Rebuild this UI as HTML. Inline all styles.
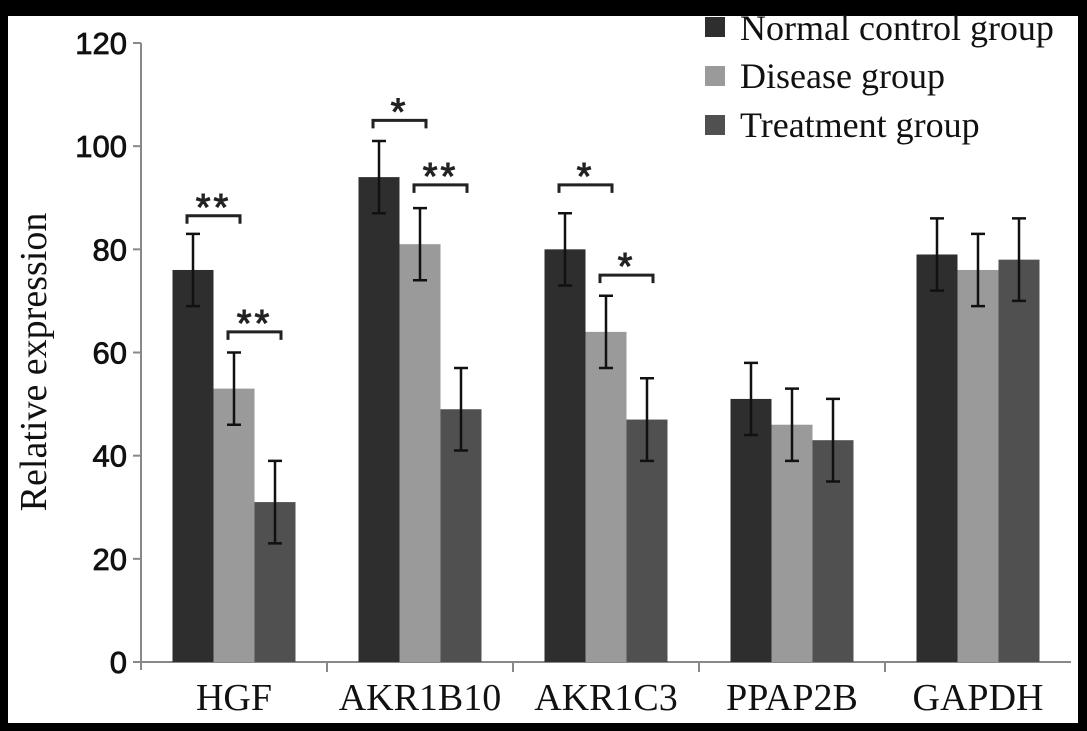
<!DOCTYPE html>
<html><head><meta charset="utf-8"><style>
html,body{margin:0;padding:0;background:#000;}
svg{display:block}
</style></head><body>
<svg width="1087" height="731" xmlns="http://www.w3.org/2000/svg">
<rect x="8" y="16" width="1070" height="707" fill="#fff"/>
<g id="plot"></g>
<text transform="translate(46,362) rotate(-90)" text-anchor="middle" font-family="Liberation Serif, serif" font-size="38" fill="#111">Relative expression</text>
<g font-family="Liberation Serif, serif" font-size="36" fill="#111">
<rect x="705" y="17" width="20" height="20" fill="#2e2e2e"/>
<text x="740" y="40">Normal control group</text>
<rect x="705" y="66" width="20" height="20" fill="#9a9a9a"/>
<text x="740" y="88">Disease group</text>
<rect x="705" y="115" width="20" height="20" fill="#505050"/>
<text x="740" y="137">Treatment group</text>
</g>
<rect x="1078" y="0" width="9" height="731" fill="#000"/>
</svg>
<script>
const categories=["HGF","AKR1B10","AKR1C3","PPAP2B","GAPDH"];
const normalVals=[76,94,80,51,79];
const diseaseVals=[53,81,64,46,76];
const treatVals=[31,49,47,43,78];
const normalErr=[7,7,7,7,7];
const diseaseErr=[7,7,7,7,7];
const treatErr=[8,8,8,8,8];
const yTicks=[0,20,40,60,80,100,120];
// significance: [categoryIndex, seriesA, seriesB, bracketValue, label]
const sigs=[[0,0,1,86.5,"**"],[0,1,2,64,"**"],[1,0,1,105,"*"],[1,1,2,92.5,"**"],[2,0,1,92.5,"*"],[2,1,2,75,"*"]];
const NS="http://www.w3.org/2000/svg";
const g=document.getElementById('plot');
const x0=141,x1=1071,yZero=662,yTop=43;
const y=v=>yZero-(v/120)*(yZero-yTop);
const gw=(x1-x0)/categories.length,bw=41;
const barX=(c,s)=>x0+gw*c+(gw-3*bw)/2+s*bw;
function mk(t,a){const e=document.createElementNS(NS,t);for(const k in a)e.setAttribute(k,a[k]);g.appendChild(e);return e;}
let e=mk('line',{x1:x0,y1:yTop,x2:x0,y2:yZero+8,stroke:'#888','stroke-width':2});


e=mk('line',{x1:x0-8,y1:yZero,x2:x1,y2:yZero,stroke:'#888','stroke-width':2});


yTicks.forEach(t=>{
 let l=mk('line',{x1:x0-8,y1:y(t),x2:x0,y2:y(t),stroke:'#888','stroke-width':2});
 
 
 let tx=mk('text',{x:x0-14,y:y(t)+11,'text-anchor':'end','font-family':'Liberation Sans, sans-serif','font-size':31,fill:'#111',stroke:'#111','stroke-width':0.8});
 tx.textContent=t;
 
 
});
const series=[[normalVals,normalErr,'#2e2e2e','normal'],[diseaseVals,diseaseErr,'#9a9a9a','disease'],[treatVals,treatErr,'#505050','treatment']];
categories.forEach((c,i)=>{
 if(i>0){let l=mk('line',{x1:x0+gw*i,y1:yZero,x2:x0+gw*i,y2:yZero+10,stroke:'#888','stroke-width':2});
 
 }
 let tx=mk('text',{x:x0+gw*(i+0.5),y:710,'text-anchor':'middle','font-family':'Liberation Serif, serif','font-size':38,fill:'#111'});
 tx.textContent=c;
 
 
 series.forEach((s,si)=>{
  const v=s[0][i],er=s[1][i],bx=barX(i,si);
  let r=mk('rect',{x:bx,y:y(v),width:bw,height:yZero-y(v),fill:s[2]});
  
  
  const cx=bx+bw/2;
  let p=mk('path',{d:`M${cx},${y(v+er)}V${y(v-er)}M${cx-7},${y(v+er)}H${cx+7}M${cx-7},${y(v-er)}H${cx+7}`,stroke:'#111','stroke-width':2.5,fill:'none'});
  
  
 });
});
sigs.forEach(s=>{
 const xa=barX(s[0],s[1])+bw/2-6,xb=barX(s[0],s[2])+bw/2+6,yy=y(s[3]);
 let p=mk('path',{d:`M${xa},${yy+8}V${yy}H${xb}V${yy+8}`,stroke:'#222','stroke-width':3,fill:'none'});
 
 
 let t=mk('text',{x:(xa+xb)/2,y:yy+4,'text-anchor':'middle','font-family':'Liberation Sans, sans-serif','font-size':38,fill:'#222',stroke:'#222','stroke-width':1,'letter-spacing':3});
 t.textContent=s[4];
 
 
});
</script>
</body></html>
